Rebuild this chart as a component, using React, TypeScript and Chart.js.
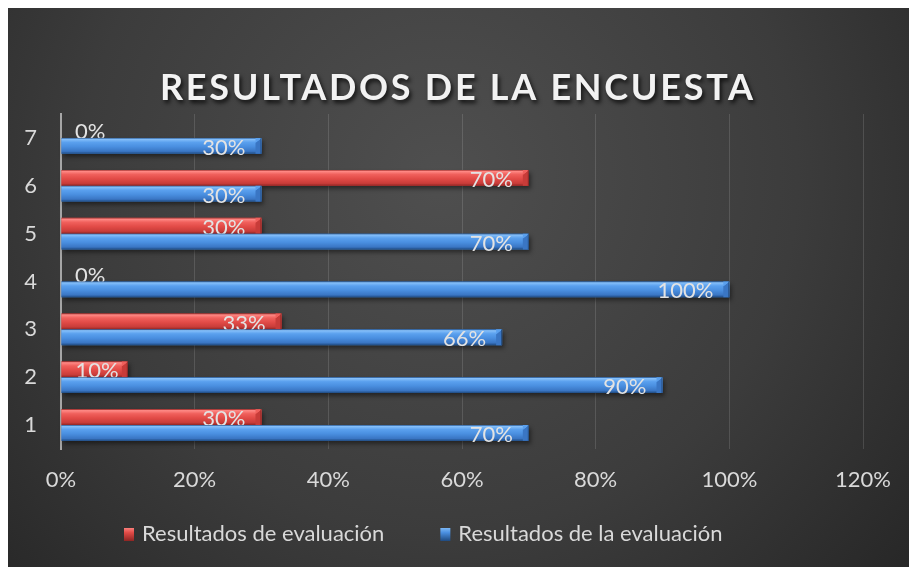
import { useEffect, useRef } from 'react';
import { Chart, registerables } from 'chart.js';

Chart.register(...registerables);

const chartTitle = 'RESULTADOS DE LA ENCUESTA';
const categories = ['1', '2', '3', '4', '5', '6', '7'];
const seriesNames = ['Resultados de evaluación', 'Resultados de la evaluación'];
const redValues = [30, 10, 33, 0, 30, 70, 0];
const blueValues = [70, 90, 66, 100, 70, 30, 30];
const xTickValues = [0, 20, 40, 60, 80, 100, 120];

const FONT = 'Lato, Carlito, Calibri, "Open Sans", sans-serif';
const TEXT = '#d9d9d9';
const FS = 22;

const palettes = [
  { base: '#e24b47', stops: ['#9a2a28', '#ff8a86', '#f0605c', '#e24b47', '#c83c39', '#8e2523'] },
  { base: '#4a8fe0', stops: ['#24528c', '#86c0fa', '#5aa0ee', '#4a8fe0', '#3a76c4', '#1f4a80'] },
];

const bgPlugin = {
  id: 'bgPlugin',
  beforeDraw(chart: any) {
    const { ctx, width, height } = chart;
    ctx.save();
    const g = ctx.createRadialGradient(width * 0.48, height * 0.3, 0, width * 0.48, height * 0.3, width * 0.72);
    g.addColorStop(0, '#4f4f4f');
    g.addColorStop(0.55, '#3c3c3c');
    g.addColorStop(1, '#242424');
    ctx.fillStyle = g;
    ctx.fillRect(0, 0, width, height);
    ctx.restore();
  },
};

const barLook = {
  id: 'barLook',
  beforeDatasetsDraw(chart: any) {
    const ctx = chart.ctx;
    ctx.save();
    ctx.filter = 'blur(2px)';
    ctx.fillStyle = 'rgba(0,0,0,0.45)';
    chart.data.datasets.forEach((_: any, di: number) => {
      chart.getDatasetMeta(di).data.forEach((bar: any) => {
        const { x, y, base, height } = bar.getProps(['x', 'y', 'base', 'height'], true);
        if (x - base < 1) return;
        ctx.fillRect(base + 2, y - height / 2 + 3, x - base, height);
      });
    });
    ctx.restore();
  },
  afterDatasetsDraw(chart: any) {
    const ctx = chart.ctx;
    ctx.save();
    chart.data.datasets.forEach((ds: any, di: number) => {
      const pal = palettes[di];
      chart.getDatasetMeta(di).data.forEach((bar: any, i: number) => {
        const { x, y, base, height } = bar.getProps(['x', 'y', 'base', 'height'], true);
        const top = y - height / 2;
        const bottom = y + height / 2;
        if (x - base >= 1) {
          const g = ctx.createLinearGradient(0, top, 0, bottom);
          const s = pal.stops;
          g.addColorStop(0, s[0]);
          g.addColorStop(0.08, s[1]);
          g.addColorStop(0.28, s[2]);
          g.addColorStop(0.55, s[3]);
          g.addColorStop(0.85, s[4]);
          g.addColorStop(1, s[5]);
          ctx.fillStyle = g;
          ctx.fillRect(base, top, x - base, height);
          const b = Math.min(6, x - base);
          ctx.fillStyle = s[4];
          ctx.beginPath();
          ctx.moveTo(x - b, top + b * 0.8);
          ctx.lineTo(x, top);
          ctx.lineTo(x, bottom);
          ctx.lineTo(x - b, bottom);
          ctx.closePath();
          ctx.fill();
          ctx.fillStyle = s[2];
          ctx.beginPath();
          ctx.moveTo(x - b, top);
          ctx.lineTo(x, top);
          ctx.lineTo(x - b, top + b * 0.8);
          ctx.closePath();
          ctx.fill();
          ctx.fillStyle = 'rgba(0,0,0,0.35)';
          ctx.fillRect(x - 1, top, 1, height);
        }
        const v = ds.data[i];
        const label = v + '%';
        ctx.font = FS + 'px ' + FONT;
        ctx.fillStyle = '#e3e3e3';
        ctx.textAlign = 'right';
        ctx.textBaseline = 'middle';
        const tw = ctx.measureText(label).width;
        const tx = Math.max(x - 16, base + 14 + tw);
        ctx.fillText(label, tx, y + 2);
      });
    });
    ctx.restore();
  },
  afterDraw(chart: any) {
    const ctx = chart.ctx;
    ctx.save();
    ctx.font = 'bold 36px ' + FONT;
    (ctx as any).letterSpacing = '0px';
    const w0 = ctx.measureText(chartTitle).width;
    const target = 593;
    const n = chartTitle.length;
    const sp = Math.max(0, (target - w0) / (n - 1));
    (ctx as any).letterSpacing = sp + 'px';
    const cx = 448.5;
    ctx.textAlign = 'left';
    ctx.textBaseline = 'alphabetic';
    ctx.shadowColor = 'rgba(0,0,0,0.75)';
    ctx.shadowBlur = 4;
    ctx.shadowOffsetX = 2;
    ctx.shadowOffsetY = 3;
    ctx.fillStyle = '#f2f2f2';
    ctx.fillText(chartTitle, cx - target / 2, 92);
    ctx.restore();

    ctx.save();
    (ctx as any).letterSpacing = '0px';
    ctx.font = FS + 'px ' + FONT;
    ctx.textBaseline = 'middle';
    ctx.textAlign = 'left';
    let lx = 116;
    const ly = 526;
    chart.data.datasets.forEach((ds: any, di: number) => {
      const pal = palettes[di];
      const g = ctx.createLinearGradient(0, ly - 7, 0, ly + 7);
      g.addColorStop(0, pal.stops[1]);
      g.addColorStop(0.4, pal.stops[3]);
      g.addColorStop(1, pal.stops[5]);
      ctx.fillStyle = g;
      ctx.fillRect(lx, ly - 6, 10, 13);
      ctx.fillStyle = TEXT;
      ctx.fillText(ds.label, lx + 18, ly);
      lx += 18 + ctx.measureText(ds.label).width + 56;
    });
    ctx.restore();
  },
};

export default function App() {
  const ref = useRef<HTMLCanvasElement | null>(null);
  useEffect(() => {
    if (!ref.current) return;
    const chart = new Chart(ref.current, {
      type: 'bar',
      data: {
        labels: categories,
        datasets: [
          { label: seriesNames[0], data: redValues, backgroundColor: palettes[0].base, borderWidth: 0 },
          { label: seriesNames[1], data: blueValues, backgroundColor: palettes[1].base, borderWidth: 0 },
        ],
      },
      options: {
        indexAxis: 'y',
        responsive: false,
        animation: false,
        devicePixelRatio: 1,
        categoryPercentage: 0.66,
        barPercentage: 1,
        layout: { padding: { top: 106, right: 46, left: 0, bottom: 0 } },
        plugins: {
          legend: { display: false },
          title: { display: false },
          tooltip: { enabled: false },
        },
        scales: {
          x: {
            type: 'linear',
            min: xTickValues[0],
            max: xTickValues[xTickValues.length - 1],
            afterBuildTicks: (s: any) => { s.ticks = xTickValues.map((v) => ({ value: v })); },
            afterFit: (s: any) => { s.height = 118; },
            ticks: {
              callback: (v: any) => v + '%',
              color: TEXT,
              font: { family: FONT, size: FS },
              padding: 18,
              maxRotation: 0,
            },
            grid: { color: 'rgba(255,255,255,0.13)', lineWidth: 1, drawTicks: false },
            border: { display: false },
          },
          y: {
            reverse: true,
            afterFit: (s: any) => { s.width = 53; },
            ticks: { color: TEXT, font: { family: FONT, size: FS }, padding: 24 },
            grid: { display: false, drawTicks: false },
            border: { color: '#a6a6a6', width: 2 },
          },
        },
      } as any,
      plugins: [bgPlugin, barLook],
    });
    return () => chart.destroy();
  }, []);
  return (
    <div style={{ position: 'fixed', left: 8, top: 8, width: 901, height: 559 }}>
      <canvas ref={ref} width={901} height={559} style={{ display: 'block' }} />
    </div>
  );
}
